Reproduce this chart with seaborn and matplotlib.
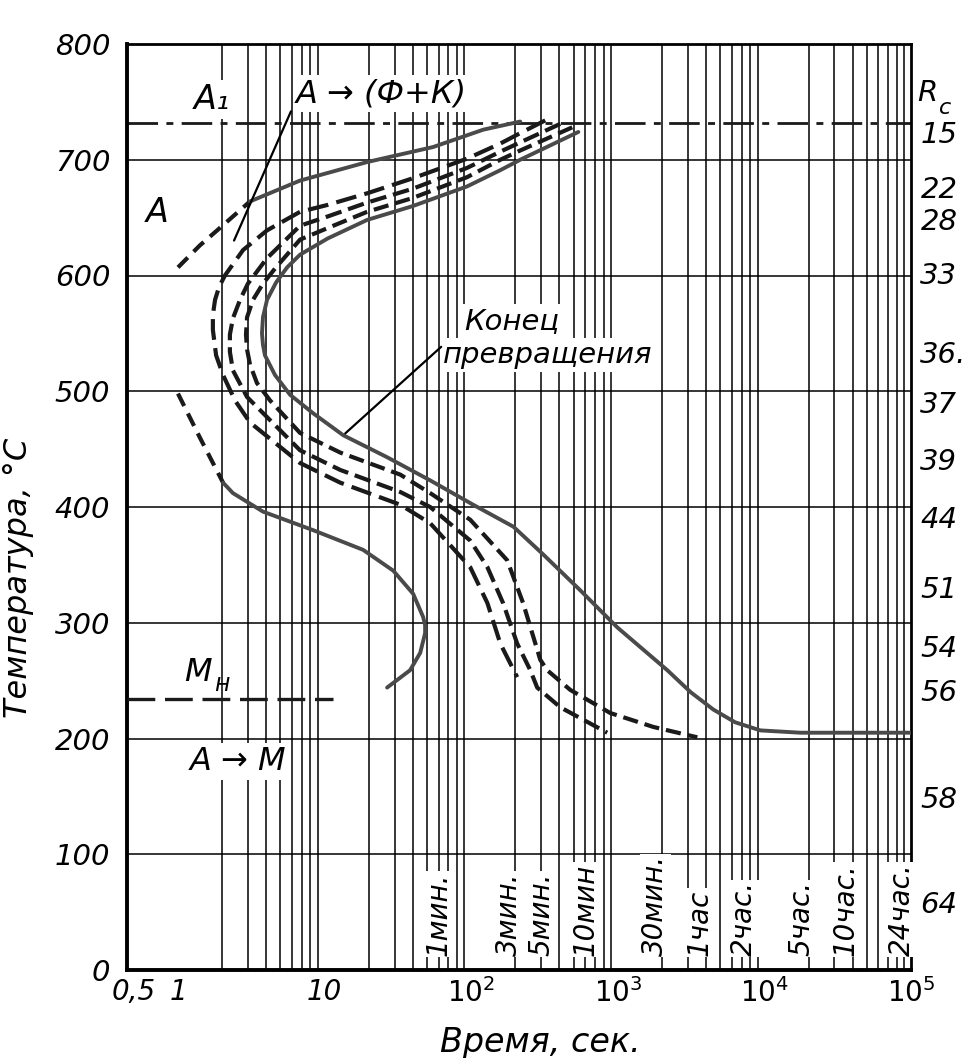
import matplotlib
matplotlib.use("Agg")
import matplotlib.pyplot as plt
import seaborn as sns
from matplotlib.ticker import FixedLocator, FixedFormatter, NullFormatter

# ---------------- data ----------------
X_MAJOR = [0.5, 1, 10, 100, 1000, 10000, 100000]
X_MAJOR_LABELS = ["0,5", "1", "10", r"$\mathit{10^{2}}$", r"$\mathit{10^{3}}$",
                  r"$\mathit{10^{4}}$", r"$\mathit{10^{5}}$"]
Y_TICKS = [0, 100, 200, 300, 400, 500, 600, 700, 800]
Y_LABELS = ["0", "100", "200", "300", "400", "500", "600", "700", "800"]

A1_TEMP = 732
MN_TEMP = 234
MN_T = [0.449, 11.4]

# curve 1 : start of transformation
C1_UP_DASH_T = [1.0, 1.41, 1.85, 3.10]
C1_UP_DASH_TEMP = [607, 626, 639, 664]
C1_UP_T = [3.10, 6.80, 19.5, 55.0, 121, 216]
C1_UP_TEMP = [664, 682, 698, 711, 726, 733]
C1_LOW_DASH_T = [1.0, 1.41, 2.03]
C1_LOW_DASH_TEMP = [498, 460, 421]
C1_LOW_T = [2.03, 2.37, 3.80, 8.35, 18.3, 29.4, 40.2, 47.0, 48.5, 48.5, 44.9, 38.3, 26.7]
C1_LOW_TEMP = [421, 412, 396, 380, 363, 345, 325, 305, 298, 291, 274, 259, 244]

# curves 2-4 : intermediate (dashed)
C2_T = [320, 216, 158, 93.9, 40.0, 19.5, 10.5, 6.80, 4.05, 2.78, 2.09, 1.905, 1.79, 1.73, 1.73,
        1.82, 2.03, 2.45, 3.10, 6.80, 12.8, 32.8, 52.5, 98.5, 129, 158, 206]
C2_TEMP = [734, 723, 714, 701, 684, 671, 661, 655, 639, 622, 600, 590, 579, 566, 553,
           531, 514, 492, 473, 438, 421, 402, 386, 348, 317, 282, 253]

C3_T = [405, 216, 158, 93.9, 40.0, 19.5, 10.5, 6.80, 4.05, 3.63, 3.0, 2.65, 2.37, 2.26, 2.26,
        2.37, 2.96, 4.25, 6.80, 12.8, 32.8, 52.5, 98.5, 129, 165, 206, 253, 282, 405, 847]
C3_TEMP = [731, 715, 707, 693, 675, 663, 651, 643, 615, 607, 593, 579, 563, 549, 534,
           518, 495, 475, 449, 432, 413, 400, 371, 348, 317, 282, 259, 244, 227, 205]

C4_T = [489, 216, 158, 93.9, 40.0, 19.5, 10.5, 6.80, 4.59, 3.80, 3.25, 2.96, 2.91, 2.96, 3.10,
        3.46, 4.25, 6.80, 12.8, 32.8, 52.5, 98.5, 176, 226, 296, 330, 474, 889, 1746, 3489]
C4_TEMP = [728, 708, 700, 685, 667, 655, 641, 631, 606, 593, 579, 564, 549, 536, 523,
           507, 492, 464, 447, 428, 412, 389, 354, 317, 268, 259, 242, 222, 210, 201]

# curve 5 : end of transformation
C5_T = [538, 216, 158, 93.9, 40.0, 19.5, 10.5, 6.80, 5.55, 4.67, 4.05, 3.80, 3.74, 3.80, 3.92,
        4.59, 5.81, 8.35, 13.4, 26.7, 52.5, 103, 194, 310, 555, 992, 2177, 3142, 4486, 6317,
        9391, 17600, 100000]
C5_TEMP = [724, 700, 691, 677, 660, 648, 632, 618, 607, 594, 579, 564, 550, 540, 531,
           514, 497, 481, 462, 443, 423, 402, 383, 359, 328, 296, 259, 240, 225, 214,
           207, 205, 205]

# right-hand hardness scale
RC_LABELS = ["15", "22", "28", "33", "36.", "37", "39", "44", "51", "54", "56", "58", "64"]
RC_TEMPS = [721, 674, 646, 600, 531, 488, 439, 389, 328, 277, 239, 147, 56]

# time marks
TIME_LABELS = ["1мин.", "3мин.", "5мин.", "10мин", "30мин.", "1час", "2час.", "5час.",
               "10час.", "24час."]
TIME_SECONDS = [60, 180, 300, 600, 1800, 3600, 7200, 18000, 36000, 86400]

# ---------------- figure ----------------
sns.set_style("white")
plt.rcParams["font.family"] = ["DejaVu Sans"]
plt.rcParams["lines.scale_dashes"] = False
plt.rcParams["text.color"] = "black"
plt.rcParams["axes.labelcolor"] = "black"
plt.rcParams["xtick.color"] = "black"
plt.rcParams["ytick.color"] = "black"

fig = plt.figure(figsize=(9.74, 10.58), dpi=100)
ax = fig.add_axes([127 / 974, 1 - 970 / 1058, 784 / 974, 926 / 1058])
ax.set_xscale("log")
ax.set_xlim(0.449, 1e5)
ax.set_ylim(0, 800)

grid_t = [k * 10.0 ** d for d in range(5) for k in range(1, 10)] + [1e5]
ax.xaxis.set_major_locator(FixedLocator(X_MAJOR))
ax.xaxis.set_major_formatter(FixedFormatter(X_MAJOR_LABELS))
ax.xaxis.set_minor_locator(FixedLocator(grid_t))
ax.xaxis.set_minor_formatter(NullFormatter())
ax.yaxis.set_major_locator(FixedLocator(Y_TICKS))
ax.yaxis.set_major_formatter(FixedFormatter(Y_LABELS))
ax.grid(True, which="minor", axis="x", color="black", lw=1.1, zorder=0)
ax.grid(True, which="major", axis="y", color="black", lw=1.1, zorder=0)
ax.set_axisbelow(True)
ax.tick_params(which="both", length=0, colors="black")
ax.tick_params(axis="y", pad=12, labelsize=21)
ax.tick_params(axis="x", pad=6, labelsize=20)
for lab in ax.get_xticklabels() + ax.get_yticklabels():
    lab.set_fontstyle("italic")
    lab.set_color("black")
for side in ["left", "bottom"]:
    ax.spines[side].set_linewidth(2.8)
for side in ["top", "right"]:
    ax.spines[side].set_linewidth(2.0)
for sp in ax.spines.values():
    sp.set_color("black")

DARK = "#1a1a1a"
GRAY = "#4a4a4a"


def curve(t, temp, color, lw, ls):
    sns.lineplot(x=t, y=temp, sort=False, estimator=None, color=color, lw=lw,
                 linestyle=ls, ax=ax, legend=False, zorder=3)


# A1 and Mн lines
ax.axhline(A1_TEMP, color=DARK, lw=2.0, linestyle=(0, (22, 6, 5, 6)), zorder=2)
curve(MN_T, [MN_TEMP, MN_TEMP], DARK, 2.4, (0, (20, 7)))

# curve 1
curve(C1_UP_DASH_T, C1_UP_DASH_TEMP, DARK, 3.0, (0, (10, 6)))
curve(C1_UP_T, C1_UP_TEMP, GRAY, 2.8, "-")
curve(C1_LOW_DASH_T, C1_LOW_DASH_TEMP, DARK, 3.0, (0, (10, 6)))
curve(C1_LOW_T, C1_LOW_TEMP, GRAY, 2.8, "-")
# curves 2-4
curve(C2_T, C2_TEMP, DARK, 3.0, (0, (15, 6)))
curve(C3_T, C3_TEMP, DARK, 3.0, (0, (12, 5)))
curve(C4_T, C4_TEMP, DARK, 3.0, (0, (11, 5)))
# curve 5
curve(C5_T, C5_TEMP, GRAY, 2.8, "-")

box = dict(facecolor="white", edgecolor="none", pad=2)
it = dict(style="italic", color="black")

# labels in the field
ax.text(1.71, 752, "А₁", fontsize=24, ha="center", va="center", bbox=box, zorder=4, **it)
ax.text(0.72, 654, "А", fontsize=24, ha="center", va="center", **it)
ax.text(24.4, 757, "А → (Ф+К)", fontsize=23, ha="center", va="center", bbox=box, zorder=4, **it)
ax.annotate("", xy=(2.37, 628), xytext=(6.0, 744),
            arrowprops=dict(arrowstyle="-", color="black", lw=1.6), zorder=4)
ax.text(190, 561, "Конец", fontsize=21, ha="center", va="center", bbox=box, zorder=4, **it)
ax.text(330, 531, "превращения", fontsize=21, ha="center", va="center", bbox=box, zorder=4, **it)
ax.annotate("", xy=(13.4, 462), xytext=(64.5, 540),
            arrowprops=dict(arrowstyle="-", color="black", lw=1.6), zorder=4)
ax.text(1.37, 257, "М", fontsize=23, ha="center", va="center", **it)
ax.text(2.0, 247, "н", fontsize=17, ha="center", va="center", **it)
ax.text(2.57, 180, "А → М", fontsize=23, ha="center", va="center", bbox=box, zorder=4, **it)

# time marks
for lab, sec in zip(TIME_LABELS, TIME_SECONDS):
    ax.text(sec, 12, lab, rotation=90, fontsize=20, ha="center", va="bottom",
            bbox=dict(facecolor="white", edgecolor="none", pad=1), zorder=4, **it)

# Rc scale
ytr = ax.get_yaxis_transform()
ax.text(1.008, 758, "R", transform=ytr, fontsize=21, ha="left", va="center", clip_on=False, **it)
ax.text(1.036, 745, "c", transform=ytr, fontsize=16, ha="left", va="center", clip_on=False, **it)
for lab, tmp in zip(RC_LABELS, RC_TEMPS):
    ax.text(1.012, tmp, lab, transform=ytr, fontsize=21, ha="left", va="center",
            clip_on=False, **it)

ax.set_ylabel("Температура, °С", fontsize=23, style="italic", color="black")
ax.yaxis.set_label_coords(-0.118, 0.424)
ax.set_xlabel("Время, сек.", fontsize=24, style="italic", color="black")
ax.xaxis.set_label_coords(0.527, -0.06)

fig.savefig("out.png", dpi=100)
